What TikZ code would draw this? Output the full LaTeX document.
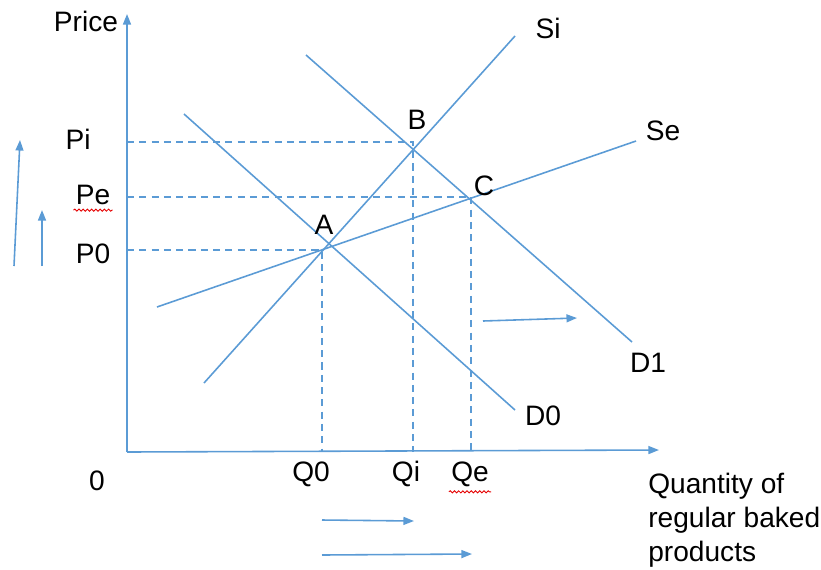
\documentclass[tikz,border=0pt]{standalone}
\usepackage{fontspec}
\setmainfont{Liberation Sans}
\usetikzlibrary{positioning,calc,arrows.meta,decorations.pathmorphing}
\definecolor{lineBlue}{RGB}{91,155,213}
\colorlet{spellRed}{red!90!black}

\begin{document}
\begin{tikzpicture}[x=0.02cm, y=-0.02cm,
        every node/.style={font=\fontsize{16}{19.3}\selectfont, align=left, inner sep=0pt},
        curve/.style={lineBlue, line width=0.9pt},
        guide/.style={lineBlue, line width=0.8pt, dash pattern=on 4pt off 3pt},
        shiftarrow/.style={lineBlue, line width=0.9pt, -{Triangle[length=6pt, width=4.5pt]}},
        squiggle/.style={spellRed, line width=0.5pt, decorate, decoration={snake, amplitude=0.6pt, segment length=2.4pt}}]
    \useasboundingbox (0,0) rectangle (821,569);

    % axes
    \coordinate (origin) at (127,452);
    \coordinate (ytop) at (127,14);
    \coordinate (xend) at (659,450);
    \draw[shiftarrow] (origin) -- (ytop);
    \draw[shiftarrow] (origin) -- (xend);

    % supply and demand curves
    \coordinate (si0) at (204,383);  \coordinate (si1) at (515,36);
    \coordinate (se0) at (157,307);  \coordinate (se1) at (636,141);
    \coordinate (d00) at (184,114);  \coordinate (d01) at (515,410);
    \coordinate (d10) at (306,55);   \coordinate (d11) at (632,342);
    \draw[curve] (si0) -- (si1);
    \draw[curve] (se0) -- (se1);
    \draw[curve] (d00) -- (d01);
    \draw[curve] (d10) -- (d11);

    % equilibrium points
    \coordinate (ptA) at (322,250);
    \coordinate (ptB) at (413,142);
    \coordinate (ptC) at (471,197);
    \node (labA) at (324,225) {A};
    \node (labB) at (417,120) {B};
    \node (labC) at (484,186) {C};

    % guide lines
    \draw[guide] (ptA -| origin) -- (ptA) -- (ptA |- origin);
    \draw[guide] (ptB -| origin) -- (ptB) -- (ptB |- origin);
    \draw[guide] (ptC -| origin) -- (ptC) -- (ptC |- origin);

    % axis labels
    \node (price) at (86,21) {Price};
    \node (pi) at (78,139) {Pi};
    \node (pe) at (93,195) {Pe};
    \node (p0) at (93,254) {P0};
    \node (zero) at (97,481) {0};
    \node (q0) at (311,474) {Q0};
    \node (qi) at (406,474) {Qi};
    \node (qe) at (470,474) {Qe};
    \node[anchor=north west] (qty) at (648,473) {Quantity of\\regular baked\\products};
    \draw[squiggle] ($(pe.south west)+(-2,5)$) -- ($(pe.south east)+(2,5)$);
    \draw[squiggle] ($(qe.south west)+(-2,5)$) -- ($(qe.south east)+(2,5)$);

    % curve labels
    \node (lsi) at (548,28) {Si};
    \node (lse) at (663,131) {Se};
    \node (ld1) at (648,363) {D1};
    \node (ld0) at (543,416) {D0};

    % shift arrows
    \coordinate (pl0) at (14,266);  \coordinate (pl1) at (20,140);
    \coordinate (ps0) at (42,266);  \coordinate (ps1) at (42,210);
    \coordinate (dm0) at (483,321); \coordinate (dm1) at (577,318);
    \coordinate (qs0) at (322,520); \coordinate (qs1) at (414,521);
    \coordinate (ql0) at (322,555); \coordinate (ql1) at (472,554);
    \draw[shiftarrow] (pl0) -- (pl1);
    \draw[shiftarrow] (ps0) -- (ps1);
    \draw[shiftarrow] (dm0) -- (dm1);
    \draw[shiftarrow] (qs0) -- (qs1);
    \draw[shiftarrow] (ql0) -- (ql1);
\end{tikzpicture}
\end{document}
